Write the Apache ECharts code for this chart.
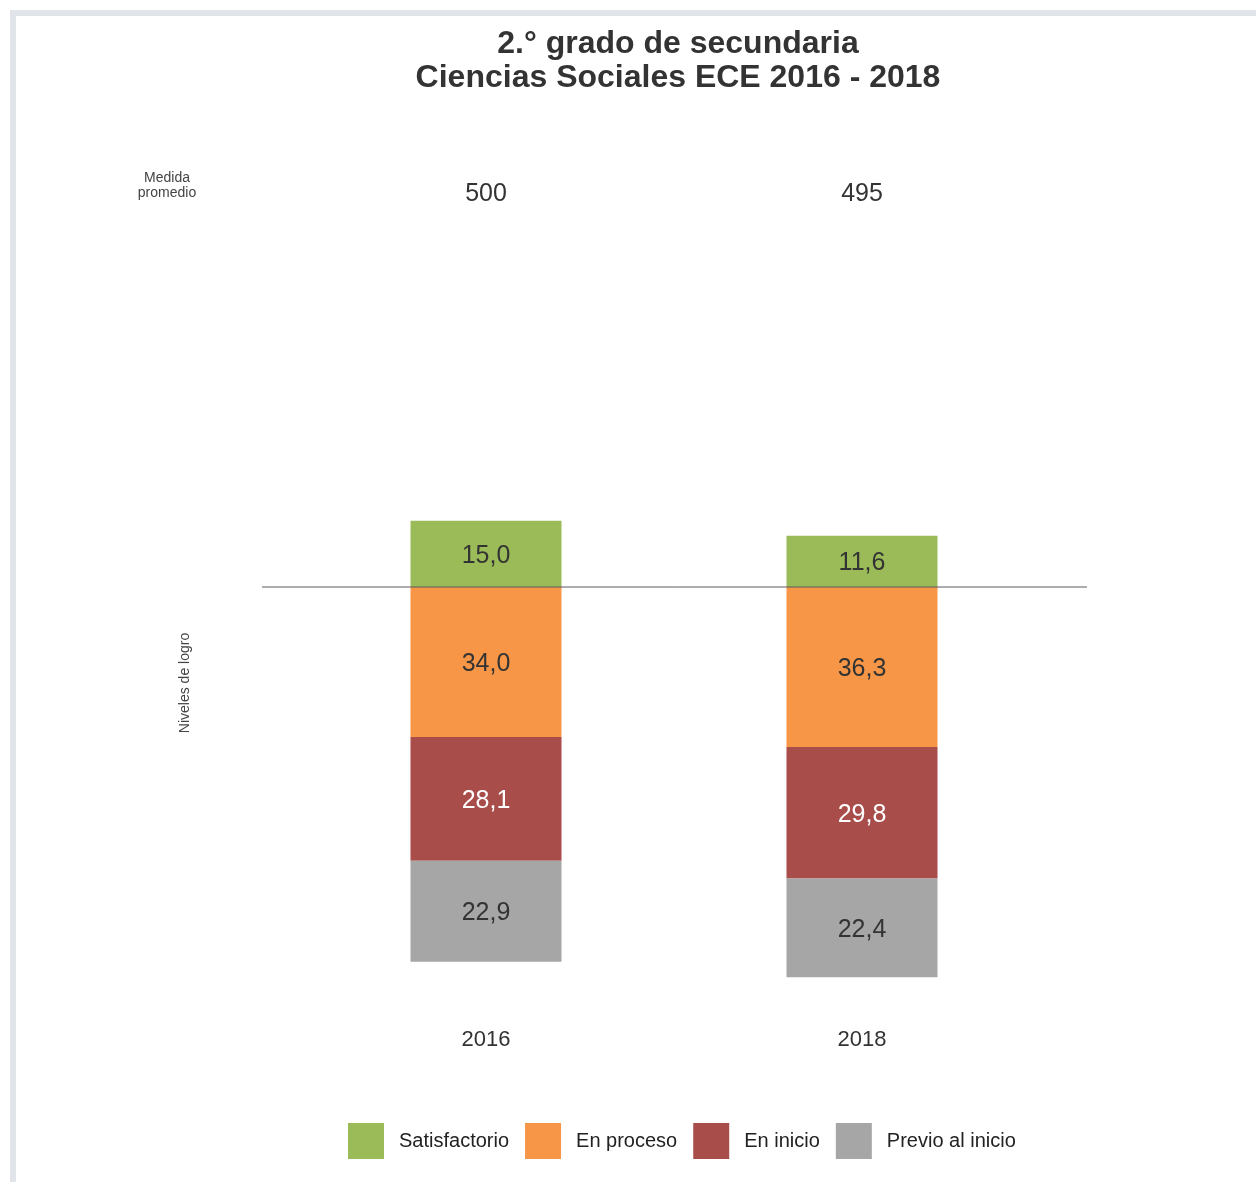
<!DOCTYPE html>
<html lang="es">
<head>
<meta charset="utf-8">
<title>2.° grado de secundaria – Ciencias Sociales ECE 2016 - 2018</title>
<script src="https://cdn.jsdelivr.net/npm/echarts@6/dist/echarts.min.js"></script>
<style>
  html, body { margin: 0; padding: 0; background: #ffffff; }
  #frame {
    position: absolute; left: 10px; top: 10px; right: 0; bottom: 0;
    border-left: 6px solid #e1e5ea; border-top: 6px solid #e1e5ea;
  }
  #chart { position: absolute; left: 0; top: 0; width: 1256px; height: 1182px; }
</style>
</head>
<body>
<div id="frame"></div>
<div id="chart"></div>
<script>
// Years evaluated and the mean score of each year
const years = ['2016', '2018'];
const meanScores = ['500', '495'];

// Percentage of students in each achievement level, per year
const levels = ['Satisfactorio', 'En proceso', 'En inicio', 'Previo al inicio'];
const satisfactorio = [15.0, 11.6];
const enProceso = [34.0, 36.3];
const enInicio = [28.1, 29.8];
const previoAlInicio = [22.9, 22.4];

// Horizontal reference line separating "Satisfactorio" from the other levels
const referenceLine = [[0, 0], [1, 0]];

const levelColors = ['#9bbb59', '#f79646', '#a94d4b', '#a6a6a6'];
const labelColors = ['#333333', '#333333', '#ffffff', '#333333'];
const FONT = '"Liberation Sans", Arial, Helvetica, sans-serif';

const fmt = v => Math.abs(v).toFixed(1).replace('.', ',');

// Satisfactorio sits above the reference line, the other levels below it
const levelValues = [satisfactorio, enProceso, enInicio, previoAlInicio];
const signs = [1, -1, -1, -1];

const Y_MIN = -95, Y_MAX = 85;
const PLOT_TOP = 212.15, PLOT_HEIGHT = 793.8;

const series = levels.map((name, i) => ({
  name: name,
  type: 'bar',
  stack: 'niveles',
  xAxisIndex: 0,
  yAxisIndex: 0,
  barWidth: 151,
  itemStyle: { color: levelColors[i] },
  label: {
    show: true,
    position: 'inside',
    offset: [0, 2],
    fontFamily: FONT,
    fontSize: 25,
    color: labelColors[i],
    formatter: p => fmt(p.value)
  },
  data: levelValues[i].map(v => signs[i] * v)
}));

series.push({
  name: 'referencia',
  type: 'line',
  xAxisIndex: 2,
  yAxisIndex: 1,
  symbol: 'none',
  silent: true,
  z: 5,
  lineStyle: { color: '#5a5a5a', width: 1 },
  data: referenceLine
});

const chart = echarts.init(document.getElementById('chart'), null, { renderer: 'canvas' });

chart.setOption({
  animation: false,
  textStyle: { fontFamily: FONT },
  title: {
    text: '2.° grado de secundaria\nCiencias Sociales ECE 2016 - 2018',
    left: 678,
    top: 27,
    padding: 0,
    textAlign: 'center',
    textVerticalAlign: 'top',
    textStyle: {
      fontFamily: FONT,
      fontSize: 32,
      fontWeight: 'bold',
      color: '#333333',
      lineHeight: 34
    }
  },
  legend: {
    data: levels,
    left: 348,
    top: 1123,
    padding: 0,
    itemWidth: 36,
    itemHeight: 36,
    itemGap: 16,
    icon: 'rect',
    selectedMode: false,
    textStyle: {
      fontFamily: FONT,
      fontSize: 20,
      color: '#222222',
      padding: [0, 0, 0, 10]
    }
  },
  grid: [
    { left: 298, width: 752, top: PLOT_TOP, height: PLOT_HEIGHT },
    { left: 262, width: 825, top: PLOT_TOP, height: PLOT_HEIGHT }
  ],
  xAxis: [
    {
      type: 'category',
      gridIndex: 0,
      position: 'bottom',
      data: years,
      axisLine: { show: false },
      axisTick: { show: false },
      axisLabel: { margin: 23, fontFamily: FONT, fontSize: 22, color: '#333333' }
    },
    {
      type: 'category',
      gridIndex: 0,
      position: 'top',
      data: meanScores,
      axisLine: { show: false },
      axisTick: { show: false },
      axisLabel: { margin: 6, fontFamily: FONT, fontSize: 25, color: '#333333' }
    },
    {
      type: 'value',
      gridIndex: 1,
      min: 0,
      max: 1,
      show: false
    }
  ],
  yAxis: [
    { type: 'value', gridIndex: 0, min: Y_MIN, max: Y_MAX, show: false },
    { type: 'value', gridIndex: 1, min: Y_MIN, max: Y_MAX, show: false }
  ],
  graphic: [
    {
      type: 'text',
      x: 167,
      y: 186,
      style: {
        text: 'Medida\npromedio',
        align: 'center',
        verticalAlign: 'middle',
        fontFamily: FONT,
        fontSize: 14,
        lineHeight: 15,
        fill: '#444444'
      }
    },
    {
      type: 'text',
      x: 185,
      y: 683,
      rotation: Math.PI / 2,
      style: {
        text: 'Niveles de logro',
        align: 'center',
        verticalAlign: 'middle',
        fontFamily: FONT,
        fontSize: 14,
        fill: '#444444'
      }
    }
  ],
  series: series
});
</script>
</body>
</html>
